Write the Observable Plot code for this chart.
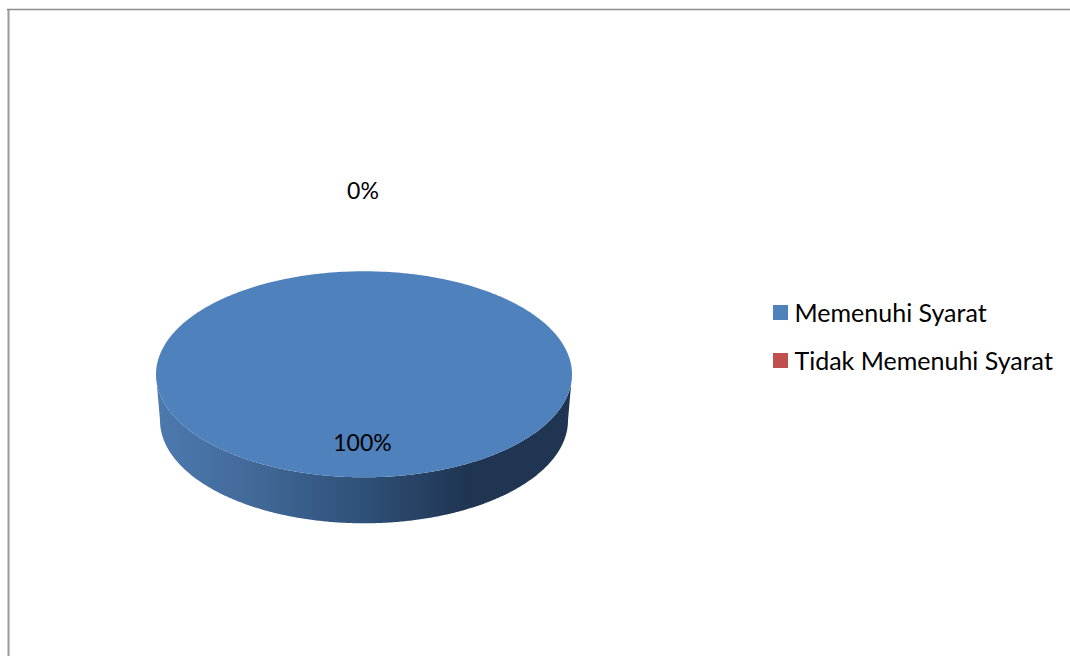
<!DOCTYPE html>
<html>
<head>
<meta charset="utf-8">
<script src="https://cdn.jsdelivr.net/npm/d3@7"></script>
<script src="https://cdn.jsdelivr.net/npm/@observablehq/plot@0.6"></script>
<style>
html,body{margin:0;padding:0;background:#fff;overflow:hidden}
svg{display:block}
</style>
</head>
<body>
<div id="chart"></div>
<script>
const categories = ["Memenuhi Syarat", "Tidak Memenuhi Syarat"];
const values = [100, 0];
const colors = ["#4F81BD", "#C0504D"];
const labels = ["100%", "0%"];

const W = 1070, H = 656;
const FONT = "Lato, Carlito, 'Open Sans', sans-serif";
const pie = {cx: 363.5, cy: 373.8, rx: 208, ry: 103, depth: 46, inset: 4};
const total = d3.sum(values);

// angles clockwise from 12 o'clock
let acc = 0;
const slices = categories.map((name, i) => {
  const a0 = acc / total * 2 * Math.PI;
  acc += values[i];
  const a1 = acc / total * 2 * Math.PI;
  return {name, value: values[i], color: colors[i], label: labels[i], a0, a1};
});

const rimPoint = a => ({x: pie.cx + pie.rx * Math.sin(a), y: pie.cy - pie.ry * Math.cos(a)});

const faces = slices.flatMap(s =>
  d3.range(0, 361).map(k => ({...rimPoint(s.a0 + (s.a1 - s.a0) * k / 360), name: s.name, color: s.color}))
);

// Visible wall of the disc: lower half of the rim, tapering slightly downward
const wall = d3.range(0, 361).map(k => {
  const a = Math.PI / 2 + Math.PI * k / 360;          // right rim → bottom → left rim
  const p = rimPoint(a);
  return {
    x1: p.x, y1: p.y,
    x2: pie.cx + (pie.rx - pie.inset) * Math.sin(a),
    y2: pie.cy + pie.depth - pie.ry * Math.cos(a)
  };
});
const wallPoly = [
  ...wall.map(d => ({x: d.x1, y: d.y1})),
  ...wall.slice().reverse().map(d => ({x: d.x2, y: d.y2}))
];

const labelPos = {"100%": {x: 362, y: 443}, "0%": {x: 362.5, y: 191}};
const legendRows = categories.map((name, i) => ({
  name, color: colors[i], y: 313 + i * 48
}));

const defs = () => {
  const ns = "http://www.w3.org/2000/svg";
  const d = document.createElementNS(ns, "defs");
  d.innerHTML = `<linearGradient id="wallGrad" gradientUnits="userSpaceOnUse" x1="156" x2="572" y1="0" y2="0">
    <stop offset="0" stop-color="#4C79AE"/>
    <stop offset="0.2" stop-color="#436C9C"/>
    <stop offset="0.5" stop-color="#2F5078"/>
    <stop offset="0.75" stop-color="#1F3552"/>
    <stop offset="1" stop-color="#1F3552"/>
  </linearGradient>`;
  return d;
};

const chart = Plot.plot({
  width: W, height: H,
  margin: 0,
  style: {background: "#fff", fontFamily: FONT},
  x: {domain: [0, W], range: [0, W], axis: null},
  y: {domain: [0, H], range: [0, H], axis: null},
  marks: [
    defs,
    Plot.ruleX([8], {y1: 9, y2: H, stroke: "#9a9a9a", strokeWidth: 2}),
    Plot.ruleY([9], {x1: 7, x2: W, stroke: "#8c8c8c", strokeWidth: 1.5}),
    Plot.line(wallPoly, {x: "x", y: "y", fill: "url(#wallGrad)", stroke: "none"}),
    Plot.line(faces, {x: "x", y: "y", z: "name", fill: "color", stroke: "none"}),
    Plot.text(slices, {
      x: d => labelPos[d.label].x, y: d => labelPos[d.label].y, text: "label",
      fontSize: 23, fill: "#000", textAnchor: "middle", lineAnchor: "middle"
    }),
    Plot.rect(legendRows, {
      x1: 773, x2: 788, y1: d => d.y - 8, y2: d => d.y + 7, fill: "color"
    }),
    Plot.text(legendRows, {
      x: 794, y: "y", text: "name", fontSize: 25, fill: "#000",
      textAnchor: "start", lineAnchor: "middle"
    })
  ]
});
document.getElementById("chart").append(chart);
</script>
</body>
</html>
